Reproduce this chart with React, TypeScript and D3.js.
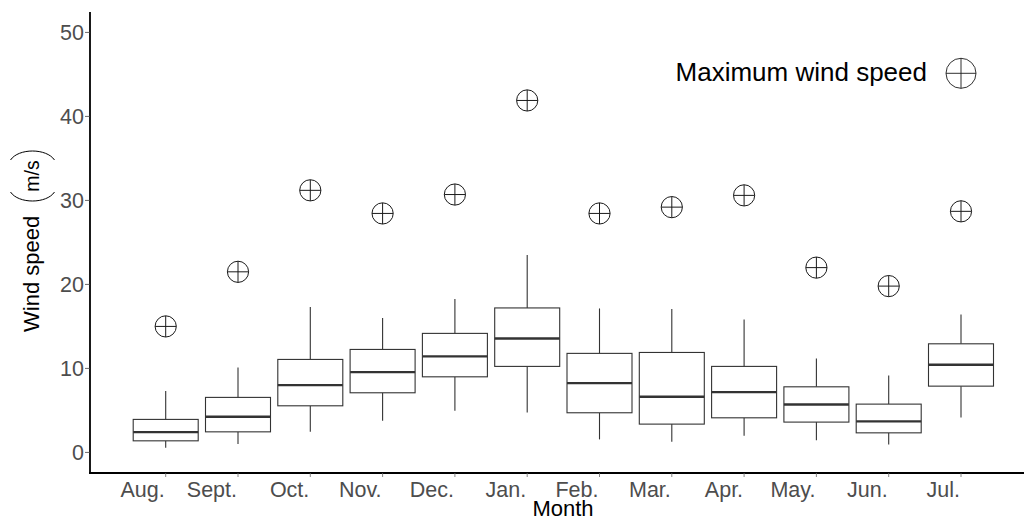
import React from "react";
import * as d3 from "d3";

const months = ["Aug.", "Sept.", "Oct.", "Nov.", "Dec.", "Jan.", "Feb.", "Mar.", "Apr.", "May.", "Jun.", "Jul."];
const lowerWhisker = [0.55, 0.99, 2.45, 3.77, 4.96, 4.76, 1.55, 1.26, 1.98, 1.46, 0.95, 4.17];
const q1 = [1.38, 2.45, 5.55, 7.1, 9.0, 10.24, 4.72, 3.37, 4.12, 3.61, 2.33, 7.89];
const median = [2.42, 4.24, 8.01, 9.56, 11.43, 13.57, 8.25, 6.62, 7.18, 5.71, 3.69, 10.43];
const q3 = [3.93, 6.55, 11.07, 12.26, 14.17, 17.2, 11.79, 11.9, 10.24, 7.81, 5.75, 12.93];
const upperWhisker = [7.3, 10.1, 17.3, 16.0, 18.25, 23.5, 17.14, 17.06, 15.83, 11.19, 9.17, 16.43];
const maxSpeed = [15.0, 21.5, 31.2, 28.45, 30.7, 41.9, 28.45, 29.2, 30.6, 22.0, 19.8, 28.7];
const yTicks = [0, 10, 20, 30, 40, 50];

const FONT = "'Liberation Sans', Arial, Helvetica, sans-serif";

export default function App() {
  const W = 1024, H = 518;
  const left = 90, top = 12, bottom = 473;
  const y = d3.scaleLinear().domain([-2.45, 52.43]).range([bottom, top]);
  const x = d3.scalePoint<string>().domain(months).range([165.7, 961]).padding(0);
  const boxW = 65;
  const boxStroke = "#333333";

  const CrossCircle = ({ cx, cy, r, sw }: { cx: number; cy: number; r: number; sw: number }) => (
    <g>
      <circle cx={cx} cy={cy} r={r} fill="none" stroke="#1a1a1a" strokeWidth={sw} />
      <line x1={cx - r} x2={cx + r} y1={cy} y2={cy} stroke="#1a1a1a" strokeWidth={sw} />
      <line x1={cx} x2={cx} y1={cy - r} y2={cy + r} stroke="#1a1a1a" strokeWidth={sw} />
    </g>
  );

  return (
    <div style={{ position: "fixed", left: 0, top: 0 }}>
      <svg width={W} height={H} style={{ display: "block", background: "#fff" }} fontFamily={FONT}>
        {/* boxes */}
        {months.map((m, i) => {
          const cx = x(m)!;
          return (
            <g key={m}>
              <line x1={cx} x2={cx} y1={y(upperWhisker[i])} y2={y(q3[i])} stroke={boxStroke} strokeWidth={1.1} />
              <line x1={cx} x2={cx} y1={y(q1[i])} y2={y(lowerWhisker[i])} stroke={boxStroke} strokeWidth={1.1} />
              <rect x={cx - boxW / 2} y={y(q3[i])} width={boxW} height={y(q1[i]) - y(q3[i])} fill="#fff" stroke={boxStroke} strokeWidth={1.1} />
              <line x1={cx - boxW / 2} x2={cx + boxW / 2} y1={y(median[i])} y2={y(median[i])} stroke={boxStroke} strokeWidth={2.4} />
            </g>
          );
        })}
        {/* max points */}
        {months.map((m, i) => (
          <CrossCircle key={"p" + m} cx={x(m)!} cy={y(maxSpeed[i])} r={10.6} sw={1} />
        ))}
        {/* axes */}
        <line x1={left} x2={left} y1={top} y2={bottom + 1} stroke="#000" strokeWidth={1.8} />
        <line x1={left - 0.9} x2={W} y1={bottom} y2={bottom} stroke="#000" strokeWidth={1.8} />
        {yTicks.map((t) => (
          <g key={"yt" + t}>
            <line x1={left - 5} x2={left} y1={y(t)} y2={y(t)} stroke="#444" strokeWidth={0.8} />
            <text x={left - 6} y={y(t)} dy="0.36em" textAnchor="end" fontSize={21.5} fill="#4d4d4d">{t}</text>
          </g>
        ))}
        {months.map((m) => (
          <g key={"xt" + m}>
            <line x1={x(m)!} x2={x(m)!} y1={bottom} y2={bottom + 4} stroke="#666" strokeWidth={0.8} />
            <text x={x(m)! - 1} y={497} textAnchor="end" fontSize={21.5} fill="#4d4d4d">{m}</text>
          </g>
        ))}
        {/* x title */}
        <text x={563} y={516} textAnchor="middle" fontSize={22} fill="#000">Month</text>
        {/* y title */}
        <g transform="translate(38.5,332) rotate(-90)">
          <text x={0} y={0} fontSize={22} fill="#000">Wind speed</text>
          <path d="M140,-28 C128,-20 128,8 140,16" fill="none" stroke="#000" strokeWidth={1} />
          <text x={156} y={0} textAnchor="middle" fontSize={19.5} fill="#000">m/s</text>
          <path d="M172,-28 C184,-20 184,8 172,16" fill="none" stroke="#000" strokeWidth={1} />
        </g>
        {/* legend */}
        <text x={927} y={80.7} textAnchor="end" fontSize={26} fill="#000">Maximum wind speed</text>
        <CrossCircle cx={961} cy={73.3} r={15} sw={0.9} />
      </svg>
    </div>
  );
}
